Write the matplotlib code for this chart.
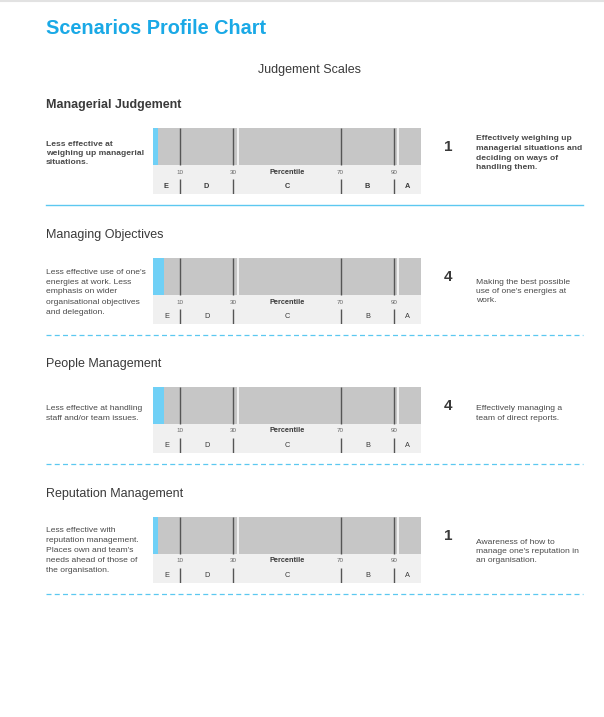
import matplotlib.pyplot as plt
from matplotlib.lines import Line2D

plt.rcParams['font.family'] = ['Liberation Sans', 'DejaVu Sans']

W, H = 604, 717

scale_titles = ['Managerial Judgement', 'Managing Objectives',
                'People Management', 'Reputation Management']
scores = [1, 4, 4, 1]
score_pcts = [2, 4, 4, 2]
low_texts = [
    ['Less effective at', 'weighing up managerial', 'situations.'],
    ["Less effective use of one's", 'energies at work. Less', 'emphasis on wider',
     'organisational objectives', 'and delegation.'],
    ['Less effective at handling', 'staff and/or team issues.'],
    ['Less effective with', 'reputation management.', "Places own and team's",
     'needs ahead of those of', 'the organisation.'],
]
high_texts = [
    ['Effectively weighing up', 'managerial situations and', 'deciding on ways of',
     'handling them.'],
    ['Making the best possible', "use of one's energies at", 'work.'],
    ['Effectively managing a', 'team of direct reports.'],
    ['Awareness of how to', "manage one's reputation in", 'an organisation.'],
]
cut_points = [10, 30, 70, 90]
band_labels = ['E', 'D', 'C', 'B', 'A']

BLUE = '#1aa9e6'
CYAN = '#6fd0f6'
LINE = '#5cc8f0'
DARK = '#3a3a3a'
BODY = '#4a4a4a'


def fx(x):
    return x / W


def fy(y):
    return 1 - y / H


fig = plt.figure(figsize=(W / 100, H / 100), dpi=100)
fig.patch.set_facecolor('white')

# thin grey page edge at the top
fig.add_artist(Line2D([0, 1], [fy(1), fy(1)], color='#e2e2e2', lw=1.5,
                      transform=fig.transFigure))
fig.text(fx(46), fy(29), 'Scenarios Profile Chart', color=BLUE, fontsize=14.3,
         fontweight='bold', va='center')
fig.text(fx(310), fy(70), 'Judgement Scales', color=DARK, fontsize=9,
         ha='center', va='center')

edges = [0] + cut_points + [100]
mids = [(a + b) / 2 for a, b in zip(edges[:-1], edges[1:])]

tops = [128, 258, 387, 517]
low_offsets = [17, 14, 22, 13]
high_offsets = [11, 24, 22, 25]
low_steps = [8.7, 10, 10, 10]
high_steps = [9.5, 9.3, 9.3, 9.3]

for i, top in enumerate(tops):
    first = i == 0
    wt = 'bold' if first else 'normal'

    fig.text(fx(46), fy(top - 23), scale_titles[i], color=DARK, fontsize=9,
             fontweight=wt, va='center')

    for j, line in enumerate(low_texts[i]):
        fig.text(fx(46), fy(top + low_offsets[i] + j * low_steps[i]), line,
                 color=BODY, fontsize=6.1, fontweight=wt, va='center')

    fig.text(fx(448), fy(top + 19), str(scores[i]), color=DARK, fontsize=11,
             fontweight='bold', ha='center', va='center')

    for j, line in enumerate(high_texts[i]):
        fig.text(fx(476), fy(top + high_offsets[i] + j * high_steps[i]), line,
                 color=BODY, fontsize=6.1, fontweight=wt, va='center')

    # the percentile scale: grey band on top, light label strip below
    ax = fig.add_axes([fx(153), fy(top + 66), 268 / W, 66 / H])
    ax.set_xlim(0, 100)
    ax.set_ylim(66, 0)
    ax.axis('off')
    ax.barh(18.5, 100, height=37, left=0, color='#c6c6c6')
    ax.barh(18.5, score_pcts[i], height=37, left=0, color=CYAN)
    ax.barh(51.5, 100, height=29, left=0, color='#f0f0f0')
    ax.vlines(cut_points, 0, 37, color='#555555', lw=1.0)
    ax.vlines([31.6, 91.3], 0, 37, color='white', lw=1.1)
    ax.vlines(cut_points, 51, 66, color='#555555', lw=1.0)
    for c in cut_points:
        ax.text(c, 44, str(c), fontsize=4.5, color='#666666',
                ha='center', va='center')
    ax.text(50, 44, 'Percentile', fontsize=5.3, fontweight='bold', color=DARK,
            ha='center', va='center')
    for m, lab in zip(mids, band_labels):
        ax.text(m, 58.5, lab, fontsize=5.3, fontweight=wt, color=DARK,
                ha='center', va='center')

    sep_y = fy(top + 77)
    if first:
        fig.add_artist(Line2D([fx(46), fx(583)], [sep_y, sep_y], color=LINE,
                              lw=1.0, transform=fig.transFigure))
    else:
        fig.add_artist(Line2D([fx(46), fx(583)], [sep_y, sep_y], color=LINE,
                              lw=0.9, dashes=(4, 2.6), transform=fig.transFigure))

fig.savefig('out.png', dpi=100, facecolor='white')
